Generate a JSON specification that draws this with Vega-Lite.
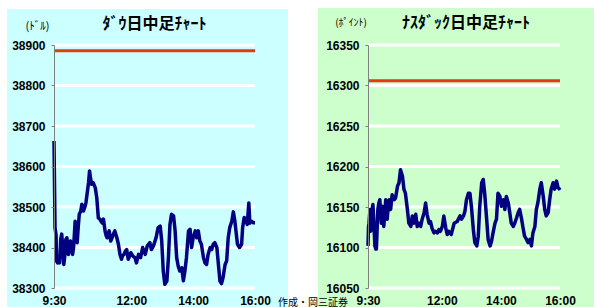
{
  "$schema": "https://vega.github.io/schema/vega-lite/v6.json",
  "background": "white",
  "padding": {"left": 7, "top": 7, "right": 0, "bottom": 0},
  "bounds": "flush",
  "spacing": 113,
  "config": {
    "view": {"stroke": null},
    "axis": {
      "grid": false,
      "labelFont": "Liberation Sans",
      "labelFontWeight": "bold",
      "labelFontSize": 12,
      "labelColor": "black",
      "labelFlush": false,
      "labelOverlap": false,
      "domainColor": "#808080",
      "tickColor": "#808080",
      "titleFont": "Noto Sans CJK JP",
      "titleFontWeight": "normal",
      "titleColor": "black"
    },
    "title": {"font": "Noto Sans CJK JP", "fontSize": 16, "fontWeight": "bold", "color": "black"}
  },
  "hconcat": [
    {
      "width": 201,
      "height": 243,
      "title": {"text": "ﾀﾞｳ日中足ﾁｬｰﾄ", "frame": "group", "anchor": "middle", "offset": -23},
      "layer": [
        {
          "data": {"values": [{}]},
          "mark": {"type": "rect", "color": "#CCFFFF"},
          "encoding": {
            "x": {"datum": {"year": 1900, "month": 1, "date": 1, "hours": 7, "minutes": 59}, "type": "temporal",
                  "scale": {"domain": [{"year": 1900, "month": 1, "date": 1, "hours": 9, "minutes": 30}, {"year": 1900, "month": 1, "date": 1, "hours": 16, "minutes": 0}], "nice": false}},
            "x2": {"datum": {"year": 1900, "month": 1, "date": 1, "hours": 17, "minutes": 4}},
            "y": {"datum": 38989, "type": "quantitative", "scale": {"domain": [38300, 38900], "nice": false, "zero": false}},
            "y2": {"datum": 38200}
          }
        },
        {
          "data": {"values": [{"g": 38300}, {"g": 38400}, {"g": 38500}, {"g": 38600}, {"g": 38700}, {"g": 38800}, {"g": 38900}]},
          "mark": {"type": "rule", "color": "white", "strokeWidth": 3},
          "encoding": {
            "x": {"datum": {"year": 1900, "month": 1, "date": 1, "hours": 9, "minutes": 30}, "type": "temporal",
                  "scale": {"domain": [{"year": 1900, "month": 1, "date": 1, "hours": 9, "minutes": 30}, {"year": 1900, "month": 1, "date": 1, "hours": 16, "minutes": 0}], "nice": false}},
            "x2": {"datum": {"year": 1900, "month": 1, "date": 1, "hours": 16, "minutes": 0}},
            "y": {"field": "g", "type": "quantitative", "scale": {"domain": [38300, 38900], "nice": false, "zero": false}}
          }
        },
        {
          "data": {"values": [{}]},
          "mark": {"type": "rule", "color": "#E8380D", "strokeWidth": 3},
          "encoding": {
            "x": {"datum": {"year": 1900, "month": 1, "date": 1, "hours": 9, "minutes": 30}, "type": "temporal",
                  "scale": {"domain": [{"year": 1900, "month": 1, "date": 1, "hours": 9, "minutes": 30}, {"year": 1900, "month": 1, "date": 1, "hours": 16, "minutes": 0}], "nice": false}},
            "x2": {"datum": {"year": 1900, "month": 1, "date": 1, "hours": 16, "minutes": 0}},
            "y": {"datum": 38886, "type": "quantitative", "scale": {"domain": [38300, 38900], "nice": false, "zero": false}}
          }
        },
        {
          "data": {
            "format": {"parse": {"t": "date:'%H:%M'"}},
            "values": [
              {"t": "09:30", "v": 38663}, {"t": "09:32", "v": 38449}, {"t": "09:34", "v": 38430}, {"t": "09:35", "v": 38367},
              {"t": "09:37", "v": 38362}, {"t": "09:39", "v": 38375}, {"t": "09:41", "v": 38362}, {"t": "09:43", "v": 38420},
              {"t": "09:45", "v": 38433}, {"t": "09:47", "v": 38400}, {"t": "09:49", "v": 38358}, {"t": "09:51", "v": 38380},
              {"t": "09:53", "v": 38420}, {"t": "09:55", "v": 38424}, {"t": "09:58", "v": 38383}, {"t": "10:00", "v": 38400},
              {"t": "10:02", "v": 38416}, {"t": "10:04", "v": 38395}, {"t": "10:06", "v": 38383}, {"t": "10:08", "v": 38400},
              {"t": "10:11", "v": 38465}, {"t": "10:13", "v": 38440}, {"t": "10:15", "v": 38412}, {"t": "10:17", "v": 38450},
              {"t": "10:19", "v": 38482}, {"t": "10:22", "v": 38490}, {"t": "10:24", "v": 38507}, {"t": "10:27", "v": 38490},
              {"t": "10:30", "v": 38500}, {"t": "10:32", "v": 38511}, {"t": "10:35", "v": 38540}, {"t": "10:37", "v": 38560},
              {"t": "10:39", "v": 38589}, {"t": "10:41", "v": 38570}, {"t": "10:43", "v": 38556}, {"t": "10:46", "v": 38560},
              {"t": "10:50", "v": 38548}, {"t": "10:53", "v": 38523}, {"t": "10:56", "v": 38473}, {"t": "10:59", "v": 38470},
              {"t": "11:01", "v": 38465}, {"t": "11:04", "v": 38460}, {"t": "11:06", "v": 38470}, {"t": "11:09", "v": 38441},
              {"t": "11:11", "v": 38430}, {"t": "11:13", "v": 38424}, {"t": "11:15", "v": 38435}, {"t": "11:17", "v": 38441},
              {"t": "11:20", "v": 38416}, {"t": "11:23", "v": 38425}, {"t": "11:25", "v": 38433}, {"t": "11:28", "v": 38441},
              {"t": "11:32", "v": 38424}, {"t": "11:35", "v": 38408}, {"t": "11:38", "v": 38383}, {"t": "11:41", "v": 38371},
              {"t": "11:43", "v": 38380}, {"t": "11:46", "v": 38383}, {"t": "11:48", "v": 38390}, {"t": "11:51", "v": 38395},
              {"t": "11:54", "v": 38371}, {"t": "11:57", "v": 38380}, {"t": "11:59", "v": 38387}, {"t": "12:03", "v": 38379},
              {"t": "12:07", "v": 38375}, {"t": "12:10", "v": 38362}, {"t": "12:14", "v": 38383}, {"t": "12:18", "v": 38375},
              {"t": "12:22", "v": 38400}, {"t": "12:27", "v": 38383}, {"t": "12:31", "v": 38404}, {"t": "12:36", "v": 38412},
              {"t": "12:39", "v": 38395}, {"t": "12:43", "v": 38404}, {"t": "12:48", "v": 38424}, {"t": "12:52", "v": 38449},
              {"t": "12:56", "v": 38453}, {"t": "12:59", "v": 38416}, {"t": "13:02", "v": 38342}, {"t": "13:05", "v": 38309},
              {"t": "13:09", "v": 38317}, {"t": "13:12", "v": 38375}, {"t": "13:15", "v": 38457}, {"t": "13:18", "v": 38482},
              {"t": "13:22", "v": 38478}, {"t": "13:25", "v": 38441}, {"t": "13:28", "v": 38375}, {"t": "13:31", "v": 38354},
              {"t": "13:34", "v": 38342}, {"t": "13:38", "v": 38350}, {"t": "13:41", "v": 38318}, {"t": "13:44", "v": 38342},
              {"t": "13:47", "v": 38375}, {"t": "13:51", "v": 38441}, {"t": "13:54", "v": 38445}, {"t": "13:57", "v": 38400},
              {"t": "14:00", "v": 38424}, {"t": "14:04", "v": 38441}, {"t": "14:07", "v": 38424}, {"t": "14:10", "v": 38441},
              {"t": "14:13", "v": 38416}, {"t": "14:16", "v": 38408}, {"t": "14:20", "v": 38375}, {"t": "14:23", "v": 38362},
              {"t": "14:26", "v": 38358}, {"t": "14:29", "v": 38383}, {"t": "14:33", "v": 38400}, {"t": "14:36", "v": 38395},
              {"t": "14:39", "v": 38408}, {"t": "14:42", "v": 38412}, {"t": "14:46", "v": 38400}, {"t": "14:49", "v": 38358},
              {"t": "14:52", "v": 38317}, {"t": "14:55", "v": 38311}, {"t": "14:58", "v": 38326}, {"t": "15:02", "v": 38358},
              {"t": "15:05", "v": 38367}, {"t": "15:08", "v": 38424}, {"t": "15:11", "v": 38449}, {"t": "15:15", "v": 38465},
              {"t": "15:18", "v": 38488}, {"t": "15:21", "v": 38465}, {"t": "15:23", "v": 38441}, {"t": "15:26", "v": 38408},
              {"t": "15:30", "v": 38400}, {"t": "15:34", "v": 38408}, {"t": "15:36", "v": 38449}, {"t": "15:39", "v": 38474},
              {"t": "15:42", "v": 38470}, {"t": "15:45", "v": 38457}, {"t": "15:48", "v": 38510}, {"t": "15:50", "v": 38460},
              {"t": "15:53", "v": 38465}, {"t": "15:57", "v": 38461}, {"t": "16:00", "v": 38461}
            ]
          },
          "mark": {"type": "line", "color": "#000080", "strokeWidth": 3.5, "strokeJoin": "round"},
          "encoding": {
            "x": {"field": "t", "type": "temporal",
                  "scale": {"domain": [{"year": 1900, "month": 1, "date": 1, "hours": 9, "minutes": 30}, {"year": 1900, "month": 1, "date": 1, "hours": 16, "minutes": 0}], "nice": false},
                  "axis": {"zindex": 1, "title": null, "format": "%-H:%M", "domain": false, "ticks": false, "labelPadding": 7,
                           "values": [{"year": 1900, "month": 1, "date": 1, "hours": 9, "minutes": 30}, {"year": 1900, "month": 1, "date": 1, "hours": 12, "minutes": 0}, {"year": 1900, "month": 1, "date": 1, "hours": 14, "minutes": 0}, {"year": 1900, "month": 1, "date": 1, "hours": 16, "minutes": 0}]}},
            "y": {"field": "v", "type": "quantitative",
                  "scale": {"domain": [38300, 38900], "nice": false, "zero": false},
                  "axis": {"zindex": 1, "title": "(ﾄﾞﾙ)", "titleAngle": 0, "titleX": -17, "titleY": -19, "titleAlign": "center", "titleBaseline": "middle", "titleFontSize": 11,
                           "values": [38300, 38400, 38500, 38600, 38700, 38800, 38900], "format": "d", "tickSize": 3, "labelPadding": 6}}
          }
        }
      ]
    },
    {
      "width": 192,
      "height": 243,
      "title": {"text": "ﾅｽﾀﾞｯｸ日中足ﾁｬｰﾄ", "frame": "group", "anchor": "middle", "offset": -23, "dx": 2},
      "layer": [
        {
          "data": {"values": [{}]},
          "mark": {"type": "rect", "color": "#CCFFCC"},
          "encoding": {
            "x": {"datum": {"year": 1900, "month": 1, "date": 1, "hours": 7, "minutes": 48}, "type": "temporal",
                  "scale": {"domain": [{"year": 1900, "month": 1, "date": 1, "hours": 9, "minutes": 30}, {"year": 1900, "month": 1, "date": 1, "hours": 16, "minutes": 0}], "nice": false}},
            "x2": {"datum": {"year": 1900, "month": 1, "date": 1, "hours": 17, "minutes": 20}},
            "y": {"datum": 16395.7, "type": "quantitative", "scale": {"domain": [16050, 16350], "nice": false, "zero": false}},
            "y2": {"datum": 16000}
          }
        },
        {
          "data": {"values": [{"g": 16050}, {"g": 16100}, {"g": 16150}, {"g": 16200}, {"g": 16250}, {"g": 16300}, {"g": 16350}]},
          "mark": {"type": "rule", "color": "white", "strokeWidth": 3},
          "encoding": {
            "x": {"datum": {"year": 1900, "month": 1, "date": 1, "hours": 9, "minutes": 30}, "type": "temporal",
                  "scale": {"domain": [{"year": 1900, "month": 1, "date": 1, "hours": 9, "minutes": 30}, {"year": 1900, "month": 1, "date": 1, "hours": 16, "minutes": 0}], "nice": false}},
            "x2": {"datum": {"year": 1900, "month": 1, "date": 1, "hours": 16, "minutes": 0}},
            "y": {"field": "g", "type": "quantitative", "scale": {"domain": [16050, 16350], "nice": false, "zero": false}}
          }
        },
        {
          "data": {"values": [{}]},
          "mark": {"type": "rule", "color": "#E8380D", "strokeWidth": 3},
          "encoding": {
            "x": {"datum": {"year": 1900, "month": 1, "date": 1, "hours": 9, "minutes": 30}, "type": "temporal",
                  "scale": {"domain": [{"year": 1900, "month": 1, "date": 1, "hours": 9, "minutes": 30}, {"year": 1900, "month": 1, "date": 1, "hours": 16, "minutes": 0}], "nice": false}},
            "x2": {"datum": {"year": 1900, "month": 1, "date": 1, "hours": 16, "minutes": 0}},
            "y": {"datum": 16306, "type": "quantitative", "scale": {"domain": [16050, 16350], "nice": false, "zero": false}}
          }
        },
        {
          "data": {
            "format": {"parse": {"t": "date:'%H:%M'"}},
            "values": [
              {"t": "09:30", "v": 16102}, {"t": "09:31", "v": 16125}, {"t": "09:32", "v": 16130}, {"t": "09:34", "v": 16147},
              {"t": "09:35", "v": 16120}, {"t": "09:37", "v": 16122}, {"t": "09:39", "v": 16150}, {"t": "09:40", "v": 16153},
              {"t": "09:42", "v": 16130}, {"t": "09:44", "v": 16102}, {"t": "09:46", "v": 16098}, {"t": "09:47", "v": 16098},
              {"t": "09:49", "v": 16130}, {"t": "09:50", "v": 16147}, {"t": "09:52", "v": 16155}, {"t": "09:54", "v": 16159},
              {"t": "09:57", "v": 16130}, {"t": "09:59", "v": 16151}, {"t": "10:02", "v": 16126}, {"t": "10:04", "v": 16140},
              {"t": "10:06", "v": 16159}, {"t": "10:09", "v": 16135}, {"t": "10:11", "v": 16150}, {"t": "10:13", "v": 16159},
              {"t": "10:16", "v": 16147}, {"t": "10:19", "v": 16165}, {"t": "10:23", "v": 16159}, {"t": "10:26", "v": 16161},
              {"t": "10:30", "v": 16176}, {"t": "10:33", "v": 16180}, {"t": "10:36", "v": 16196}, {"t": "10:38", "v": 16192},
              {"t": "10:40", "v": 16188}, {"t": "10:43", "v": 16172}, {"t": "10:46", "v": 16167}, {"t": "10:50", "v": 16147},
              {"t": "10:53", "v": 16130}, {"t": "10:57", "v": 16126}, {"t": "11:00", "v": 16139}, {"t": "11:03", "v": 16130},
              {"t": "11:07", "v": 16141}, {"t": "11:10", "v": 16126}, {"t": "11:13", "v": 16130}, {"t": "11:17", "v": 16126},
              {"t": "11:20", "v": 16135}, {"t": "11:24", "v": 16143}, {"t": "11:27", "v": 16155}, {"t": "11:30", "v": 16141},
              {"t": "11:34", "v": 16130}, {"t": "11:37", "v": 16132}, {"t": "11:40", "v": 16124}, {"t": "11:44", "v": 16118},
              {"t": "11:47", "v": 16120}, {"t": "11:51", "v": 16118}, {"t": "11:54", "v": 16122}, {"t": "11:57", "v": 16120},
              {"t": "12:01", "v": 16126}, {"t": "12:04", "v": 16139}, {"t": "12:08", "v": 16124}, {"t": "12:11", "v": 16116},
              {"t": "12:14", "v": 16120}, {"t": "12:19", "v": 16116}, {"t": "12:25", "v": 16130}, {"t": "12:31", "v": 16132},
              {"t": "12:37", "v": 16139}, {"t": "12:40", "v": 16135}, {"t": "12:44", "v": 16139}, {"t": "12:47", "v": 16145},
              {"t": "12:50", "v": 16159}, {"t": "12:54", "v": 16167}, {"t": "12:57", "v": 16167}, {"t": "13:00", "v": 16151},
              {"t": "13:04", "v": 16122}, {"t": "13:07", "v": 16106}, {"t": "13:11", "v": 16102}, {"t": "13:14", "v": 16114},
              {"t": "13:17", "v": 16151}, {"t": "13:21", "v": 16180}, {"t": "13:24", "v": 16184}, {"t": "13:27", "v": 16167},
              {"t": "13:31", "v": 16135}, {"t": "13:34", "v": 16110}, {"t": "13:38", "v": 16102}, {"t": "13:41", "v": 16108},
              {"t": "13:44", "v": 16118}, {"t": "13:48", "v": 16130}, {"t": "13:51", "v": 16135}, {"t": "13:54", "v": 16167},
              {"t": "13:58", "v": 16163}, {"t": "14:01", "v": 16151}, {"t": "14:05", "v": 16159}, {"t": "14:08", "v": 16147},
              {"t": "14:11", "v": 16163}, {"t": "14:15", "v": 16155}, {"t": "14:18", "v": 16143}, {"t": "14:21", "v": 16130},
              {"t": "14:25", "v": 16126}, {"t": "14:28", "v": 16130}, {"t": "14:32", "v": 16137}, {"t": "14:35", "v": 16143},
              {"t": "14:38", "v": 16147}, {"t": "14:42", "v": 16135}, {"t": "14:45", "v": 16124}, {"t": "14:48", "v": 16114},
              {"t": "14:52", "v": 16110}, {"t": "14:55", "v": 16106}, {"t": "14:59", "v": 16110}, {"t": "15:02", "v": 16102},
              {"t": "15:05", "v": 16118}, {"t": "15:09", "v": 16126}, {"t": "15:12", "v": 16147}, {"t": "15:15", "v": 16155},
              {"t": "15:19", "v": 16172}, {"t": "15:22", "v": 16180}, {"t": "15:26", "v": 16163}, {"t": "15:29", "v": 16147},
              {"t": "15:32", "v": 16139}, {"t": "15:36", "v": 16143}, {"t": "15:39", "v": 16159}, {"t": "15:42", "v": 16172},
              {"t": "15:46", "v": 16180}, {"t": "15:49", "v": 16172}, {"t": "15:53", "v": 16182}, {"t": "15:56", "v": 16174},
              {"t": "15:59", "v": 16172}, {"t": "16:00", "v": 16171}
            ]
          },
          "mark": {"type": "line", "color": "#000080", "strokeWidth": 3.5, "strokeJoin": "round"},
          "encoding": {
            "x": {"field": "t", "type": "temporal",
                  "scale": {"domain": [{"year": 1900, "month": 1, "date": 1, "hours": 9, "minutes": 30}, {"year": 1900, "month": 1, "date": 1, "hours": 16, "minutes": 0}], "nice": false},
                  "axis": {"zindex": 1, "title": "作成・岡三証券", "titleX": -55.5, "titleY": 14, "titleAlign": "center", "titleBaseline": "middle", "titleFontSize": 10,
                           "format": "%-H:%M", "domain": false, "ticks": false, "labelPadding": 7,
                           "values": [{"year": 1900, "month": 1, "date": 1, "hours": 9, "minutes": 30}, {"year": 1900, "month": 1, "date": 1, "hours": 12, "minutes": 0}, {"year": 1900, "month": 1, "date": 1, "hours": 14, "minutes": 0}, {"year": 1900, "month": 1, "date": 1, "hours": 16, "minutes": 0}]}},
            "y": {"field": "v", "type": "quantitative",
                  "scale": {"domain": [16050, 16350], "nice": false, "zero": false},
                  "axis": {"zindex": 1, "title": "(ﾎﾟｲﾝﾄ)", "titleAngle": 0, "titleX": -17.5, "titleY": -23, "titleAlign": "center", "titleBaseline": "middle", "titleFontSize": 10,
                           "values": [16050, 16100, 16150, 16200, 16250, 16300, 16350], "format": "d", "tickSize": 3, "labelPadding": 6}}
          }
        }
      ]
    }
  ]
}
